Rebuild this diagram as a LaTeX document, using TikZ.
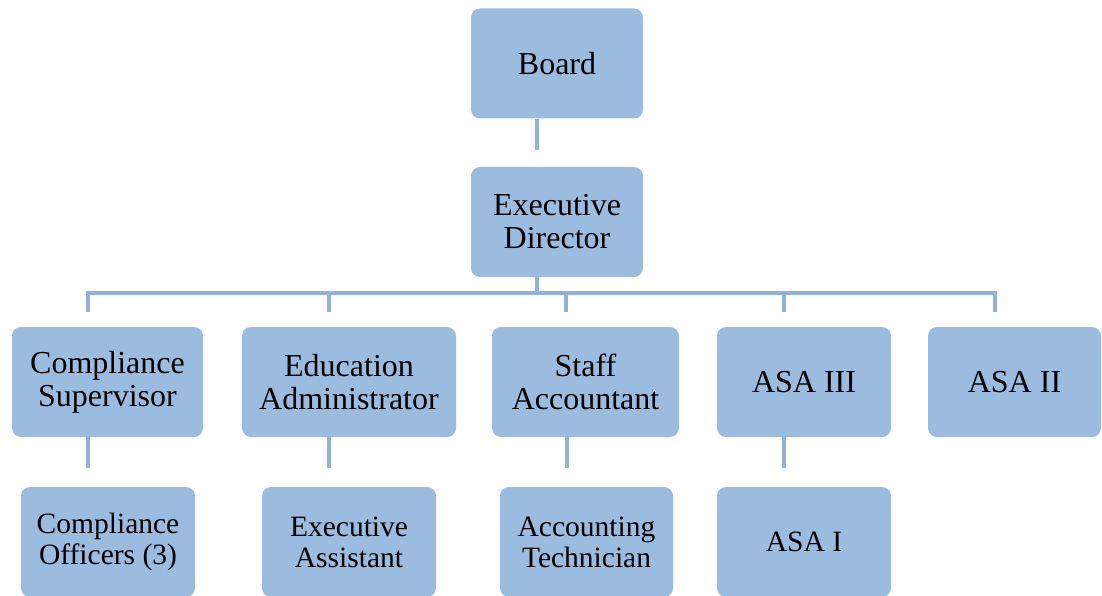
\documentclass[tikz,border=0pt]{standalone}
\usepackage{fontspec}
\setmainfont{Liberation Serif}
\definecolor{boxblue}{HTML}{9BBBDF}
\definecolor{lineblue}{HTML}{93B2D8}

\begin{document}
\begin{tikzpicture}[x=1pt, y=-1pt,
        box/.style={rectangle, rounded corners=9pt, fill=boxblue, inner sep=0pt,
            minimum height=110pt, align=center, font=\fontsize{32}{33}\selectfont},
        small/.style={font=\fontsize{29.5}{31}\selectfont},
        link/.style={draw=lineblue, line width=4pt}]
        \useasboundingbox (0, 0) rectangle (1102, 596);
        \clip (0, 0) rectangle (1102, 596);

        % top of the chart
        \node[box, minimum width=172pt] at (557, 63.5)  (board) {Board};
        \node[box, minimum width=172pt] at (557, 222)   (exec)  {Executive\\Director};

        % direct reports
        \node[box, minimum width=191pt] at (107.5, 382) (compsup)  {Compliance\\Supervisor};
        \node[box, minimum width=214pt] at (349, 382)   (eduadmin) {Education\\Administrator};
        \node[box, minimum width=187pt] at (585.5, 382) (staffacc) {Staff\\Accountant};
        \node[box, minimum width=174pt] at (804, 382)   (asa3)     {ASA III};
        \node[box, minimum width=173pt] at (1014.5, 382) (asa2)    {ASA II};

        % second level staff
        \node[box, small, minimum width=174pt] at (108, 542)   (compoff)  {Compliance\\Officers (3)};
        \node[box, small, minimum width=174pt] at (349, 542)   (execasst) {Executive\\Assistant};
        \node[box, small, minimum width=173pt] at (586.5, 542) (accttech) {Accounting\\Technician};
        \node[box, small, minimum width=174pt] at (804, 542)   (asa1)     {ASA I};

        \draw[link] ([xshift=-20pt]board.south) -- ++(0, 31);

        \coordinate (bar) at ([xshift=-20pt]exec.south |- 0, 293);
        \draw[link] ([xshift=-20pt]exec.south) -- (bar);
        \foreach \n in {compsup, eduadmin, staffacc, asa3, asa2}
            \draw[link] (bar) -| ([xshift=-20pt, yshift=15pt]\n.north);

        \draw[link] ([xshift=-20pt]compsup.south) -- ++(0, 31);
        \draw[link] ([xshift=-20pt]eduadmin.south) -- ++(0, 31);
        \draw[link] ([xshift=-18.5pt]staffacc.south) -- ++(0, 31);
        \draw[link] ([xshift=-20pt]asa3.south) -- ++(0, 31);
    \end{tikzpicture}
\end{document}
